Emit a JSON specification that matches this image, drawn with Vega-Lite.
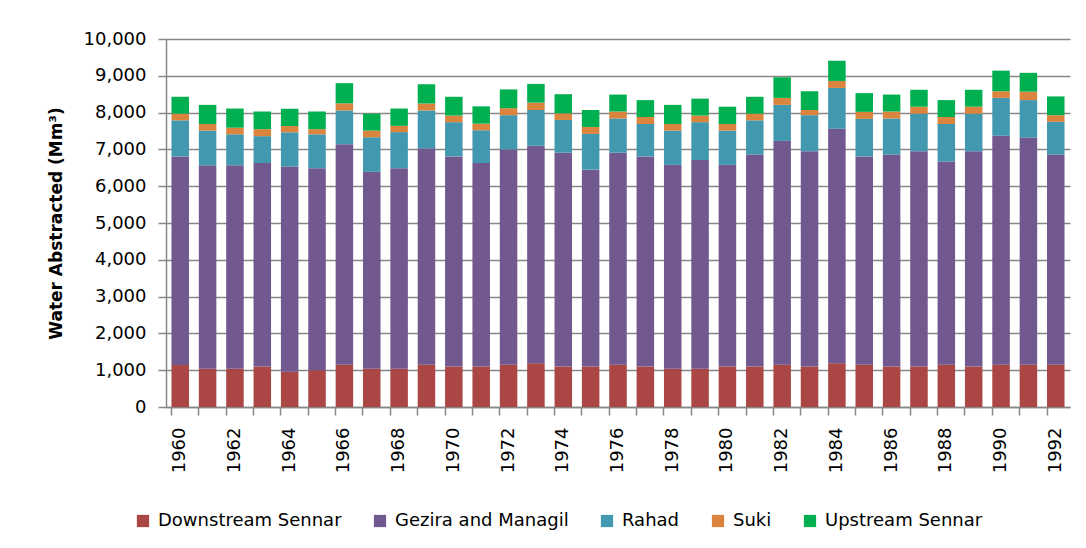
{
  "$schema": "https://vega.github.io/schema/vega-lite/v6.json",
  "autosize": "none",
  "width": 904,
  "height": 368,
  "padding": {"left": 166, "top": 39, "right": 16, "bottom": 141},
  "background": "white",
  "config": {
    "font": "DejaVu Sans",
    "view": {"stroke": null},
    "axis": {"labelFont": "DejaVu Sans", "titleFont": "DejaVu Sans", "labelColor": "#000000", "titleColor": "#000000"}
  },
  "data": {
    "values": [
      {"year": 1960, "Downstream Sennar": 1140, "Gezira and Managil": 5670, "Rahad": 980, "Suki": 180, "Upstream Sennar": 460},
      {"year": 1961, "Downstream Sennar": 1040, "Gezira and Managil": 5530, "Rahad": 940, "Suki": 180, "Upstream Sennar": 520},
      {"year": 1962, "Downstream Sennar": 1040, "Gezira and Managil": 5530, "Rahad": 840, "Suki": 180, "Upstream Sennar": 520},
      {"year": 1963, "Downstream Sennar": 1100, "Gezira and Managil": 5530, "Rahad": 730, "Suki": 190, "Upstream Sennar": 480},
      {"year": 1964, "Downstream Sennar": 960, "Gezira and Managil": 5575, "Rahad": 930, "Suki": 170, "Upstream Sennar": 470},
      {"year": 1965, "Downstream Sennar": 1000, "Gezira and Managil": 5490, "Rahad": 920, "Suki": 140, "Upstream Sennar": 480},
      {"year": 1966, "Downstream Sennar": 1150, "Gezira and Managil": 5990, "Rahad": 920, "Suki": 190, "Upstream Sennar": 550},
      {"year": 1967, "Downstream Sennar": 1040, "Gezira and Managil": 5350, "Rahad": 940, "Suki": 180, "Upstream Sennar": 460},
      {"year": 1968, "Downstream Sennar": 1040, "Gezira and Managil": 5450, "Rahad": 980, "Suki": 170, "Upstream Sennar": 470},
      {"year": 1969, "Downstream Sennar": 1150, "Gezira and Managil": 5880, "Rahad": 1030, "Suki": 190, "Upstream Sennar": 520},
      {"year": 1970, "Downstream Sennar": 1100, "Gezira and Managil": 5710, "Rahad": 930, "Suki": 180, "Upstream Sennar": 510},
      {"year": 1971, "Downstream Sennar": 1100, "Gezira and Managil": 5530, "Rahad": 890, "Suki": 180, "Upstream Sennar": 470},
      {"year": 1972, "Downstream Sennar": 1150, "Gezira and Managil": 5850, "Rahad": 930, "Suki": 190, "Upstream Sennar": 510},
      {"year": 1973, "Downstream Sennar": 1190, "Gezira and Managil": 5910, "Rahad": 970, "Suki": 200, "Upstream Sennar": 510},
      {"year": 1974, "Downstream Sennar": 1100, "Gezira and Managil": 5810, "Rahad": 890, "Suki": 180, "Upstream Sennar": 520},
      {"year": 1975, "Downstream Sennar": 1100, "Gezira and Managil": 5350, "Rahad": 970, "Suki": 190, "Upstream Sennar": 460},
      {"year": 1976, "Downstream Sennar": 1150, "Gezira and Managil": 5760, "Rahad": 930, "Suki": 190, "Upstream Sennar": 460},
      {"year": 1977, "Downstream Sennar": 1100, "Gezira and Managil": 5710, "Rahad": 880, "Suki": 190, "Upstream Sennar": 460},
      {"year": 1978, "Downstream Sennar": 1040, "Gezira and Managil": 5540, "Rahad": 930, "Suki": 180, "Upstream Sennar": 520},
      {"year": 1979, "Downstream Sennar": 1040, "Gezira and Managil": 5670, "Rahad": 1030, "Suki": 180, "Upstream Sennar": 460},
      {"year": 1980, "Downstream Sennar": 1100, "Gezira and Managil": 5480, "Rahad": 930, "Suki": 180, "Upstream Sennar": 470},
      {"year": 1981, "Downstream Sennar": 1100, "Gezira and Managil": 5760, "Rahad": 930, "Suki": 180, "Upstream Sennar": 460},
      {"year": 1982, "Downstream Sennar": 1150, "Gezira and Managil": 6080, "Rahad": 980, "Suki": 190, "Upstream Sennar": 560},
      {"year": 1983, "Downstream Sennar": 1100, "Gezira and Managil": 5850, "Rahad": 980, "Suki": 140, "Upstream Sennar": 510},
      {"year": 1984, "Downstream Sennar": 1190, "Gezira and Managil": 6370, "Rahad": 1110, "Suki": 190, "Upstream Sennar": 550},
      {"year": 1985, "Downstream Sennar": 1150, "Gezira and Managil": 5660, "Rahad": 1020, "Suki": 190, "Upstream Sennar": 510},
      {"year": 1986, "Downstream Sennar": 1100, "Gezira and Managil": 5760, "Rahad": 980, "Suki": 190, "Upstream Sennar": 460},
      {"year": 1987, "Downstream Sennar": 1100, "Gezira and Managil": 5850, "Rahad": 1020, "Suki": 190, "Upstream Sennar": 460},
      {"year": 1988, "Downstream Sennar": 1150, "Gezira and Managil": 5520, "Rahad": 1020, "Suki": 190, "Upstream Sennar": 460},
      {"year": 1989, "Downstream Sennar": 1100, "Gezira and Managil": 5850, "Rahad": 1020, "Suki": 190, "Upstream Sennar": 460},
      {"year": 1990, "Downstream Sennar": 1150, "Gezira and Managil": 6220, "Rahad": 1030, "Suki": 180, "Upstream Sennar": 560},
      {"year": 1991, "Downstream Sennar": 1150, "Gezira and Managil": 6170, "Rahad": 1020, "Suki": 230, "Upstream Sennar": 510},
      {"year": 1992, "Downstream Sennar": 1150, "Gezira and Managil": 5710, "Rahad": 890, "Suki": 180, "Upstream Sennar": 510}
    ]
  },
  "transform": [
    {"fold": ["Downstream Sennar", "Gezira and Managil", "Rahad", "Suki", "Upstream Sennar"], "as": ["region", "value"]}
  ],
  "mark": {"type": "bar"},
  "encoding": {
    "x": {
      "field": "year",
      "type": "ordinal",
      "scale": {"paddingInner": 0.36, "paddingOuter": 0.2},
      "axis": {
        "title": null,
        "labelAngle": -90,
        "labelExpr": "datum.value % 2 == 0 ? datum.label : ''",
        "labelOverlap": false,
        "labelFontSize": 18,
        "labelPadding": 12,
        "bandPosition": 0,
        "tickSize": 8,
        "tickColor": "#878787",
        "tickWidth": 1.5,
        "domainColor": "#878787",
        "domainWidth": 1.5,
        "grid": false
      }
    },
    "y": {
      "field": "value",
      "type": "quantitative",
      "stack": "zero",
      "scale": {"domain": [0, 10000], "nice": false},
      "axis": {
        "title": "Water Abstracted (Mm³)",
        "titleFontSize": 17,
        "titleFontWeight": "bold",
        "titlePadding": 18,
        "values": [0, 1000, 2000, 3000, 4000, 5000, 6000, 7000, 8000, 9000, 10000],
        "format": ",.0f",
        "labelFontSize": 18,
        "labelPadding": 12,
        "tickSize": 8,
        "tickColor": "#878787",
        "tickWidth": 1.5,
        "domainColor": "#878787",
        "domainWidth": 1.5,
        "grid": true,
        "gridColor": "#878787",
        "gridWidth": 1.5
      }
    },
    "color": {
      "field": "region",
      "type": "nominal",
      "scale": {
        "domain": ["Downstream Sennar", "Gezira and Managil", "Rahad", "Suki", "Upstream Sennar"],
        "range": ["#AA4643", "#71588F", "#4198AF", "#DB843D", "#00B050"]
      },
      "legend": {
        "title": null,
        "orient": "none",
        "direction": "horizontal",
        "legendX": -32,
        "legendY": 473,
        "symbolType": "square",
        "symbolSize": 150,
        "symbolStrokeWidth": 0,
        "labelFontSize": 18,
        "labelFont": "DejaVu Sans",
        "labelColor": "#000000",
        "labelLimit": 400,
        "columnPadding": 29,
        "labelOffset": 6
      }
    },
    "order": {"field": "region", "sort": "ascending"}
  }
}
